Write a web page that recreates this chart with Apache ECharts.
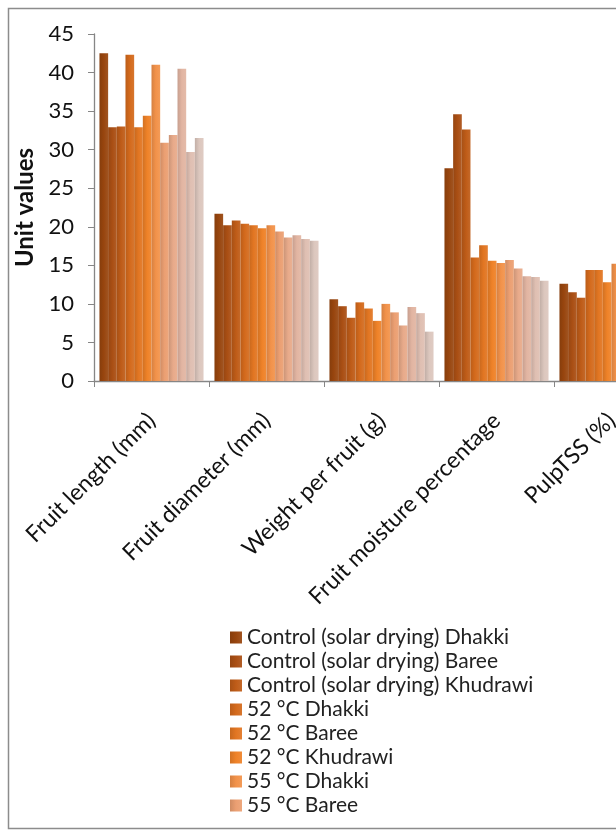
<!DOCTYPE html>
<html>
<head>
<meta charset="utf-8">
<script src="https://cdn.jsdelivr.net/npm/echarts@6/dist/echarts.min.js"></script>
<style>
  html, body { margin: 0; padding: 0; background: #ffffff; }
  #chart { width: 616px; height: 837px; }
</style>
</head>
<body>
<div id="chart"></div>
<script>
// Quality parameters of dried dates (x-axis categories)
const categories = [
  'Fruit length (mm)',
  'Fruit diameter (mm)',
  'Weight per fruit (g)',
  'Fruit moisture percentage',
  'PulpTSS (%)'
];

// Treatment × variety series
const seriesNames = [
  'Control (solar drying) Dhakki',
  'Control (solar drying) Baree',
  'Control (solar drying) Khudrawi',
  '52 °C Dhakki',
  '52 °C Baree',
  '52 °C Khudrawi',
  '55 °C Dhakki',
  '55 °C Baree',
  '55 °C Khudrawi',
  '58 °C Dhakki',
  '58 °C Baree',
  '58 °C Khudrawi'
];

// Values per parameter, in series order
const fruitLength    = [42.5, 32.9, 33.0, 42.3, 32.9, 34.4, 41.0, 30.9, 31.9, 40.5, 29.7, 31.5];
const fruitDiameter  = [21.7, 20.2, 20.8, 20.4, 20.2, 19.8, 20.2, 19.4, 18.6, 18.9, 18.4, 18.2];
const fruitWeight    = [10.6, 9.7, 8.2, 10.2, 9.4, 7.8, 10.0, 8.9, 7.2, 9.6, 8.8, 6.4];
const fruitMoisture  = [27.6, 34.6, 32.6, 16.0, 17.6, 15.6, 15.3, 15.7, 14.6, 13.6, 13.5, 13.0];
const pulpTSS        = [12.6, 11.5, 10.8, 14.4, 14.4, 12.8, 15.2, 14.0, 13.2, 15.0, 13.8, 12.9];

// Y-axis ticks
const yMin = 0, yMax = 45, yStep = 5;

const valuesByCategory = [fruitLength, fruitDiameter, fruitWeight, fruitMoisture, pulpTSS];

// Orange ramp from dark brown to pale rose
const baseColors = [
  '#98450e', '#aa4f14', '#bf5c18', '#d46a1c', '#e27622', '#ef8228',
  '#f2924a', '#eb9f72', '#e8aa8a', '#e2b5a2', '#dfbfb2', '#dcc7be'
];

function shade(hex, f) {
  const n = parseInt(hex.slice(1), 16);
  let r = (n >> 16) & 255, g = (n >> 8) & 255, b = n & 255;
  if (f >= 0) {
    r = r + (255 - r) * f; g = g + (255 - g) * f; b = b + (255 - b) * f;
  } else {
    r = r * (1 + f); g = g * (1 + f); b = b * (1 + f);
  }
  return 'rgb(' + Math.round(r) + ',' + Math.round(g) + ',' + Math.round(b) + ')';
}

function barFill(hex) {
  return new echarts.graphic.LinearGradient(0, 0, 1, 0, [
    { offset: 0, color: shade(hex, -0.12) },
    { offset: 0.5, color: hex },
    { offset: 1, color: shade(hex, 0.08) }
  ]);
}

const FONT = 'Lato';

const series = seriesNames.map((name, i) => ({
  name: name,
  type: 'bar',
  barGap: '0%',
  barCategoryGap: '9.5%',
  data: valuesByCategory.map(arr => arr[i]),
  itemStyle: { color: barFill(baseColors[i]) }
}));

const chart = echarts.init(document.getElementById('chart'), null, { renderer: 'canvas' });
chart.setOption({
  backgroundColor: '#ffffff',
  animation: false,
  graphic: [{
    type: 'rect',
    shape: { x: 8.5, y: 8.5, width: 700, height: 820 },
    style: { fill: 'none', stroke: '#8c8c8c', lineWidth: 1.5 },
    z: 100
  }],
  // the plot runs past the right edge of the canvas
  grid: { left: 94, top: 34, height: 347, width: 575, containLabel: false, outerBoundsMode: 'none' },
  legend: {
    data: seriesNames.slice(0, 8),
    orient: 'vertical',
    left: 225,
    top: 622,
    itemWidth: 12,
    itemHeight: 12,
    itemGap: 3,
    icon: 'rect',
    textStyle: { fontFamily: FONT, fontSize: 21, lineHeight: 21, color: '#222' }
  },
  xAxis: {
    type: 'category',
    data: categories,
    axisLine: { lineStyle: { color: '#868686', width: 1.3 } },
    axisTick: { show: true, length: 6, lineStyle: { color: '#868686' } },
    axisLabel: {
      rotate: 45,
      margin: 36,
      fontFamily: FONT,
      fontSize: 23,
      color: '#111'
    }
  },
  yAxis: {
    type: 'value',
    min: yMin,
    max: yMax,
    interval: yStep,
    name: 'Unit values',
    nameLocation: 'middle',
    nameRotate: 90,
    nameGap: 48,
    nameTextStyle: { fontFamily: FONT, fontSize: 24, fontWeight: 'bold', color: '#111' },
    axisLine: { show: true, lineStyle: { color: '#868686', width: 1.3 } },
    axisTick: { show: true, length: 6, lineStyle: { color: '#868686' } },
    splitLine: { show: false },
    axisLabel: { margin: 20, fontFamily: FONT, fontSize: 22, color: '#111' }
  },
  series: series
});
</script>
</body>
</html>
